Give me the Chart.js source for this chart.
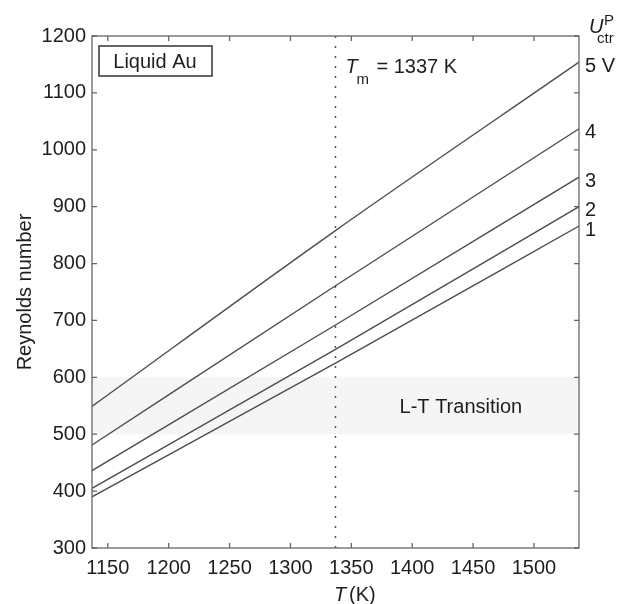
<!DOCTYPE html>
<html>
<head>
<meta charset="utf-8">
<script src="https://cdn.jsdelivr.net/npm/chart.js@4"></script>
<style>
  html, body { margin: 0; padding: 0; background: #fff; }
</style>
</head>
<body>
<canvas id="reChart" width="635" height="604"></canvas>
<script>
// temperature samples (K): left edge, melting point, right edge
const temps = [1137, 1337, 1537];
// Reynolds number for each control voltage
const re1 = [390, 625, 866];
const re2 = [405, 649, 900];
const re3 = [436, 692, 952];
const re4 = [481, 761, 1037];
const re5 = [549, 858, 1154];
const voltLabels = ["1", "2", "3", "4", "5 V"];

const xTicks = [1150, 1200, 1250, 1300, 1350, 1400, 1450, 1500];
const yTicks = [300, 400, 500, 600, 700, 800, 900, 1000, 1100, 1200];

const tMelt = 1337;
const bandLow = 500;
const bandHigh = 600;

const FONT = "'Liberation Sans', Arial, Helvetica, sans-serif";
const TEXT = "#1e1e1e";
const LINE = "#4d4d4d";
const AXIS = "#666";

document.addEventListener("DOMContentLoaded", function () {
  const ctx = document.getElementById("reChart").getContext("2d");

  const series = [re1, re2, re3, re4, re5];
  const datasets = series.map(function (vals, i) {
    return {
      label: voltLabels[i],
      data: temps.map(function (t, j) { return { x: t, y: vals[j] }; }),
      borderColor: LINE,
      borderWidth: 1.4,
      pointRadius: 0,
      cubicInterpolationMode: "monotone",
      fill: false,
    };
  });

  // shaded transition band + melting point line, under the curves
  const underlay = {
    id: "underlay",
    beforeDatasetsDraw(chart) {
      const { ctx, chartArea: a, scales: { x, y } } = chart;
      ctx.save();
      ctx.fillStyle = "#f5f5f5";
      const yTop = y.getPixelForValue(bandHigh);
      const yBot = y.getPixelForValue(bandLow);
      ctx.fillRect(a.left, yTop, a.right - a.left, yBot - yTop);

      const xm = x.getPixelForValue(tMelt);
      ctx.strokeStyle = "#555";
      ctx.lineWidth = 1.5;
      ctx.setLineDash([2, 8]);
      ctx.beginPath();
      ctx.moveTo(xm, a.top);
      ctx.lineTo(xm, a.bottom);
      ctx.stroke();
      ctx.restore();
    },
  };

  // box, inward ticks and text labels
  const overlay = {
    id: "overlay",
    afterDraw(chart) {
      const { ctx, chartArea: a, scales: { x, y } } = chart;
      ctx.save();
      ctx.strokeStyle = AXIS;
      ctx.lineWidth = 1.3;
      ctx.strokeRect(a.left, a.top, a.right - a.left, a.bottom - a.top);
      ctx.beginPath();
      xTicks.forEach(function (v) {
        const px = x.getPixelForValue(v);
        ctx.moveTo(px, a.bottom); ctx.lineTo(px, a.bottom - 5);
        ctx.moveTo(px, a.top); ctx.lineTo(px, a.top + 5);
      });
      yTicks.forEach(function (v) {
        const py = y.getPixelForValue(v);
        ctx.moveTo(a.left, py); ctx.lineTo(a.left + 5, py);
        ctx.moveTo(a.right, py); ctx.lineTo(a.right - 5, py);
      });
      ctx.stroke();

      ctx.fillStyle = TEXT;
      ctx.textBaseline = "alphabetic";

      // Liquid Au box
      ctx.strokeStyle = "#333";
      ctx.lineWidth = 1.5;
      ctx.strokeRect(a.left + 7, a.top + 10, 113, 30);
      ctx.font = "20px " + FONT;
      ctx.textAlign = "center";
      ctx.fillText("Liquid Au", a.left + 63, a.top + 32);

      // L-T Transition
      ctx.fillText("L-T Transition", x.getPixelForValue(1440),
        (y.getPixelForValue(bandLow) + y.getPixelForValue(bandHigh)) / 2 + 7);

      // T_m = 1337 K
      ctx.textAlign = "left";
      const xm = x.getPixelForValue(tMelt);
      ctx.font = "italic 20px " + FONT;
      ctx.fillText("T", xm + 10, a.top + 37);
      ctx.font = "15px " + FONT;
      ctx.fillText("m", xm + 21, a.top + 48);
      ctx.font = "20px " + FONT;
      ctx.fillText("= 1337 K", xm + 41, a.top + 37);

      // voltage labels at line ends
      ctx.textBaseline = "middle";
      series.forEach(function (vals, i) {
        const py = y.getPixelForValue(vals[vals.length - 1]);
        ctx.fillText(voltLabels[i], a.right + 6, py + 4);
      });

      // U^P_ctr header
      ctx.textBaseline = "alphabetic";
      ctx.font = "italic 20px " + FONT;
      ctx.fillText("U", a.right + 10, 33);
      ctx.font = "15px " + FONT;
      ctx.fillText("P", a.right + 25, 25);
      ctx.fillText("ctr", a.right + 18, 43);

      // x axis title
      ctx.font = "italic 20px " + FONT;
      ctx.fillText("T", 334, 601);
      ctx.font = "20px " + FONT;
      ctx.fillText("(K)", 349, 601);
      ctx.restore();
    },
  };

  const config = {
    type: "line",
    data: { datasets: datasets },
    options: {
      responsive: false,
      animation: false,
      layout: { padding: { top: 36, right: 56, left: 0, bottom: 0 } },
      plugins: {
        legend: { display: false },
        tooltip: { enabled: false },
      },
      scales: {
        x: {
          type: "linear",
          min: 1137,
          max: 1537,
          afterBuildTicks(scale) {
            scale.ticks = xTicks.map(function (v) { return { value: v }; });
          },
          afterFit(scale) { scale.height = 56; },
          grid: { display: false, drawTicks: false },
          border: { display: false },
          ticks: {
            autoSkip: false,
            maxRotation: 0,
            padding: 8,
            color: TEXT,
            font: { family: FONT, size: 20 },
            callback: function (v) { return String(v); },
          },
        },
        y: {
          type: "linear",
          min: 300,
          max: 1200,
          afterBuildTicks(scale) {
            scale.ticks = yTicks.map(function (v) { return { value: v }; });
          },
          afterFit(scale) { scale.width = 92; },
          grid: { display: false, drawTicks: false },
          border: { display: false },
          ticks: {
            autoSkip: false,
            padding: 6,
            color: TEXT,
            font: { family: FONT, size: 20 },
            callback: function (v) { return String(v); },
          },
          title: {
            display: true,
            text: "Reynolds number",
            color: TEXT,
            font: { family: FONT, size: 20, lineHeight: 1 },
            padding: { top: 15, bottom: 0 },
          },
        },
      },
    },
    plugins: [underlay, overlay],
  };

  new Chart(ctx, config);
});
</script>
</body>
</html>
